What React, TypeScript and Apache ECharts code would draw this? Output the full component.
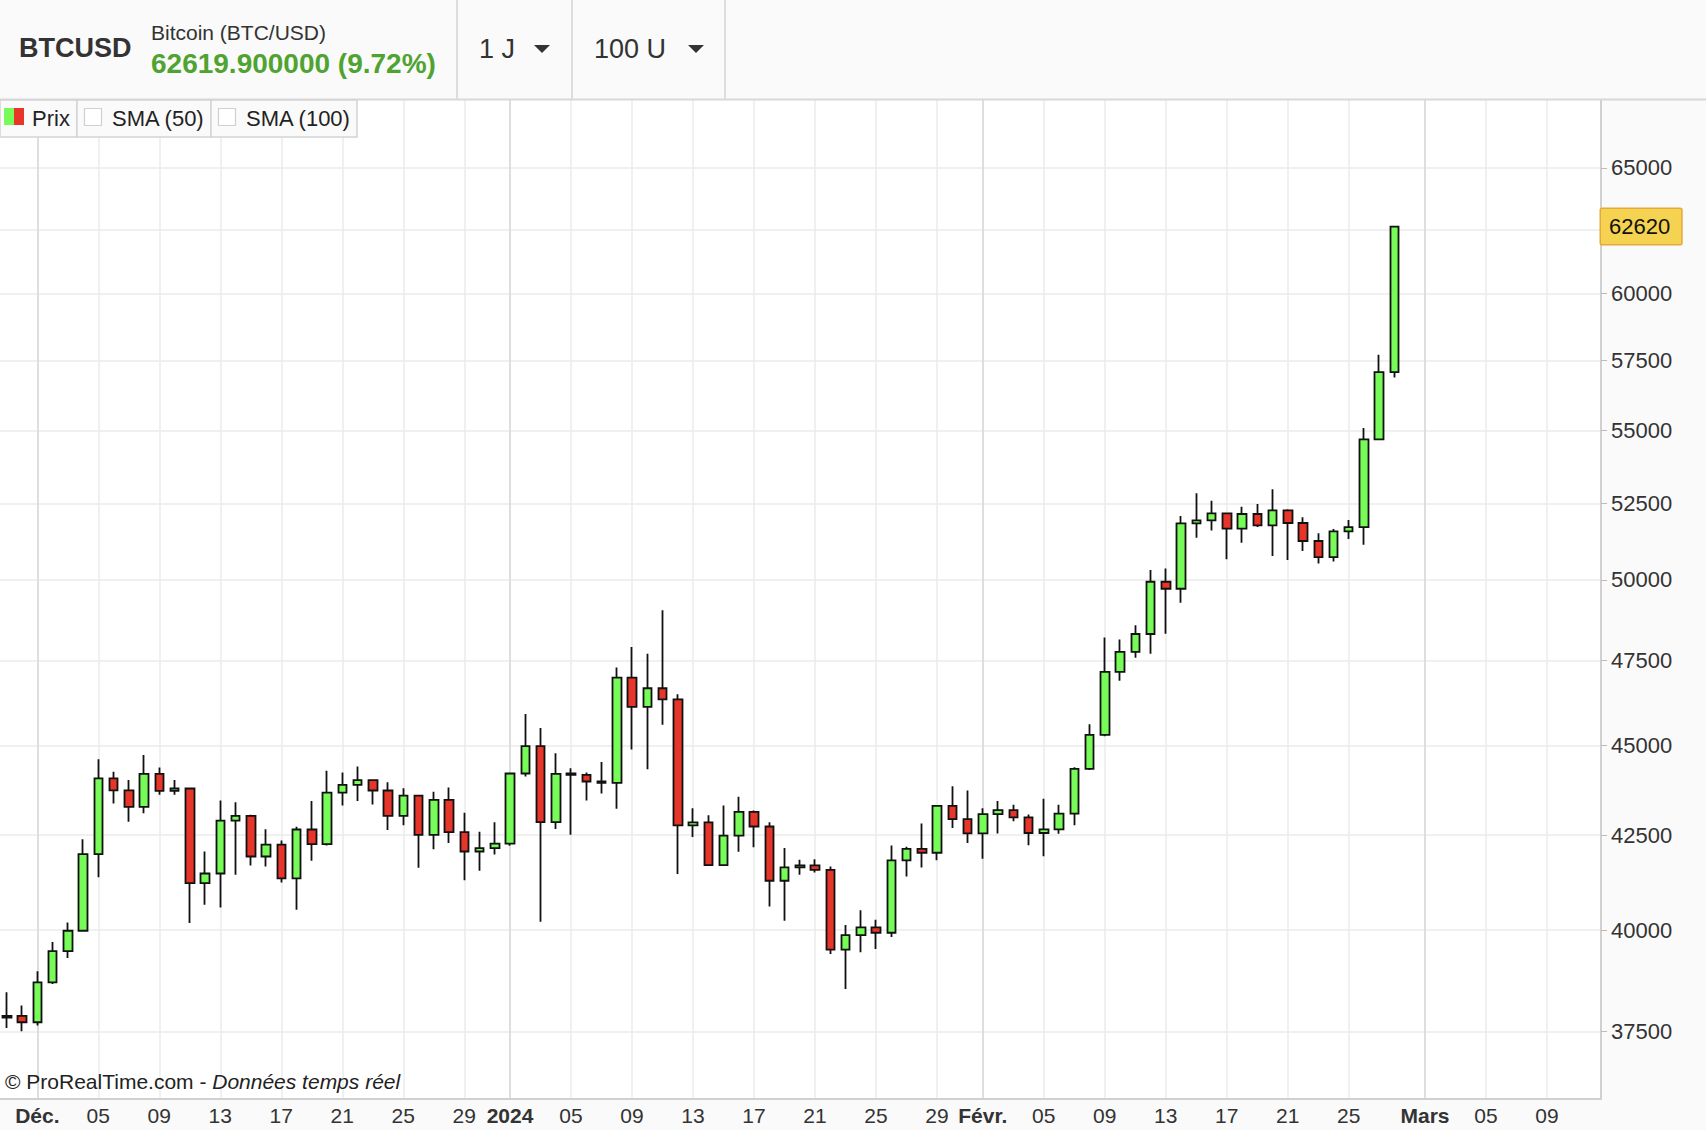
import React, { useEffect, useRef } from 'react';
import * as echarts from 'echarts';

// ---------- data ----------
const dates = [
  '2023-11-29', '2023-11-30',
  '2023-12-01', '2023-12-02', '2023-12-03', '2023-12-04', '2023-12-05', '2023-12-06', '2023-12-07', '2023-12-08',
  '2023-12-09', '2023-12-10', '2023-12-11', '2023-12-12', '2023-12-13', '2023-12-14', '2023-12-15', '2023-12-16',
  '2023-12-17', '2023-12-18', '2023-12-19', '2023-12-20', '2023-12-21', '2023-12-22', '2023-12-23', '2023-12-24',
  '2023-12-25', '2023-12-26', '2023-12-27', '2023-12-28', '2023-12-29', '2023-12-30', '2023-12-31',
  '2024-01-01', '2024-01-02', '2024-01-03', '2024-01-04', '2024-01-05', '2024-01-06', '2024-01-07', '2024-01-08',
  '2024-01-09', '2024-01-10', '2024-01-11', '2024-01-12', '2024-01-13', '2024-01-14', '2024-01-15', '2024-01-16',
  '2024-01-17', '2024-01-18', '2024-01-19', '2024-01-20', '2024-01-21', '2024-01-22', '2024-01-23', '2024-01-24',
  '2024-01-25', '2024-01-26', '2024-01-27', '2024-01-28', '2024-01-29', '2024-01-30', '2024-01-31',
  '2024-02-01', '2024-02-02', '2024-02-03', '2024-02-04', '2024-02-05', '2024-02-06', '2024-02-07', '2024-02-08',
  '2024-02-09', '2024-02-10', '2024-02-11', '2024-02-12', '2024-02-13', '2024-02-14', '2024-02-15', '2024-02-16',
  '2024-02-17', '2024-02-18', '2024-02-19', '2024-02-20', '2024-02-21', '2024-02-22', '2024-02-23', '2024-02-24',
  '2024-02-25', '2024-02-26', '2024-02-27', '2024-02-28',
];

const opens = [
  37834, 37874,
  37723, 38693, 39473, 39987, 41986, 44061, 43725, 43270,
  44188, 43714, 43779, 41218, 41472, 42894, 43021, 41923,
  42244, 41341, 42650, 42253, 43666, 43880, 44011, 43723,
  43021, 43582, 42505, 43462, 42577, 42057, 42146,
  42271, 44199, 44974, 42849, 44199, 44161, 43974, 43937,
  46983, 46114, 46666, 46339, 42760, 42842, 41696, 42486,
  43132, 42732, 41280, 41632, 41685, 41570, 39507, 39877,
  40072, 39936, 41820, 42130, 42023, 43298, 42933,
  42545, 43069, 43180, 42980, 42555, 42654, 43082, 44327,
  45299, 47156, 47760, 48307, 49941, 49719, 51833, 51933,
  52166, 51657, 52144, 51767, 52267, 51845, 51254, 50733,
  51569, 51711, 54683, 57072,
];

const closes = [
  37874, 37723,
  38693, 39473, 39987, 41986, 44061, 43725, 43270, 44188,
  43714, 43779, 41218, 41472, 42894, 43021, 41923, 42244,
  41341, 42650, 42253, 43666, 43880, 44011, 43723, 43021,
  43582, 42505, 43462, 42577, 42057, 42146, 42271,
  44199, 44974, 42849, 44190, 44161, 43974, 43937, 46983,
  46114, 46666, 46339, 42760, 42842, 41696, 42486, 43132,
  42732, 41280, 41632, 41685, 41570, 39507, 39877, 40072,
  39936, 41820, 42130, 42023, 43298, 42933, 42545,
  43069, 43180, 42980, 42555, 42654, 43082, 44327, 45299,
  47156, 47760, 48307, 49941, 49719, 51833, 51933, 52166,
  51657, 52144, 51767, 52267, 51845, 51254, 50733, 51569,
  51711, 54683, 57072, 62619.9,
];

const lows = [
  37585, 37507,
  37643, 38652, 39298, 39970, 41372, 43364, 42859, 43096,
  43603, 43603, 40183, 40654, 40586, 41437, 41684, 41657,
  41236, 40524, 41807, 42217, 43306, 43435, 43334, 42640,
  42766, 41622, 42118, 42288, 41297, 41543, 41977,
  42208, 44113, 40217, 42666, 42506, 43446, 43640, 43217,
  44882, 44321, 45590, 41456, 42444, 41680, 41690, 42047,
  42172, 40612, 40242, 41438, 41500, 39398, 38531, 39440,
  39524, 39826, 41394, 41632, 41820, 42690, 42282,
  41863, 42540, 42873, 42222, 41927, 42537, 42764, 44300,
  45260, 46886, 47578, 47700, 48317, 49277, 51363, 51602,
  50658, 51200, 51712, 50766, 50636, 50928, 50528, 50592,
  51319, 51128, 54683, 56876,
];

const highs = [
  38450, 38130,
  38966, 39700, 40200, 42388, 44605, 44248, 44014, 44725,
  44366, 44020, 43800, 42059, 43444, 43398, 43050, 42659,
  42352, 42722, 43435, 44276, 44229, 44394, 44030, 43955,
  43788, 43600, 43685, 43806, 43109, 42586, 42849,
  44220, 45904, 45500, 44772, 44350, 44227, 44527, 47284,
  47906, 47703, 49040, 46487, 43234, 43042, 43308, 43547,
  43169, 42849, 42148, 41836, 41853, 41660, 40132, 40515,
  40268, 42221, 42184, 42814, 43310, 43843, 43723,
  43234, 43430, 43330, 43060, 43497, 43330, 44374, 45608,
  48199, 48137, 48574, 50314, 50367, 52077, 52835, 52588,
  52180, 52388, 52477, 52970, 52300, 52033, 51504, 51646,
  51944, 55079, 57713, 62619.9,
];

const xTickDates = [
  '2023-12-01', '2023-12-05', '2023-12-09', '2023-12-13', '2023-12-17', '2023-12-21', '2023-12-25', '2023-12-29',
  '2024-01-01', '2024-01-05', '2024-01-09', '2024-01-13', '2024-01-17', '2024-01-21', '2024-01-25', '2024-01-29',
  '2024-02-01', '2024-02-05', '2024-02-09', '2024-02-13', '2024-02-17', '2024-02-21', '2024-02-25',
  '2024-03-01', '2024-03-05', '2024-03-09',
];
const xTickLabels = [
  'Déc.', '05', '09', '13', '17', '21', '25', '29',
  '2024', '05', '09', '13', '17', '21', '25', '29',
  'Févr.', '05', '09', '13', '17', '21', '25',
  'Mars', '05', '09',
];
const boldTickLabels = ['Déc.', '2024', 'Févr.', 'Mars'];
const monthStartDates = ['2023-12-01', '2024-01-01', '2024-02-01', '2024-03-01'];

const yTicks = [37500, 40000, 42500, 45000, 47500, 50000, 52500, 55000, 57500, 60000, 62500, 65000];
const yTickLabels = [37500, 40000, 42500, 45000, 47500, 50000, 52500, 55000, 57500, 60000, 65000];

const xRange = ['2023-11-28T13:18:00Z', '2024-03-12T13:00:00Z'];
const yRange = [35923, 67877];

const symbol = 'BTCUSD';
const instrumentName = 'Bitcoin (BTC/USD)';
const periodLabel = '1 J';
const unitsLabel = '100 U';
const legendItems = ['Prix', 'SMA (50)', 'SMA (100)'];

// ---------- helpers ----------
const FONT = "'Liberation Sans', Arial, Helvetica, sans-serif";
const toUTC = (d: string) => Date.parse(d + 'T00:00:00Z');

export default function App() {
  const ref = useRef<HTMLDivElement>(null);

  useEffect(() => {
    if (!ref.current) return;
    const chart = echarts.init(ref.current, undefined, { renderer: 'svg' });

    const candleData = dates.map((d, i) => [toUTC(d), opens[i], closes[i], lows[i], highs[i]]);
    const tickTs = xTickDates.map(toUTC);
    const monthTs = monthStartDates.map(toUTC);
    const lastClose = closes[closes.length - 1];
    const prevClose = closes[closes.length - 2];
    const pct = ((lastClose / prevClose) - 1) * 100;
    const headerPrice = `${lastClose.toFixed(6)} (${pct.toFixed(2)}%)`;

    const txt = (x: number, y: number, text: string, font: string, fill = '#333', extra: any = {}) => ({
      type: 'text',
      x,
      y,
      z: 110,
      silent: true,
      style: {
        text,
        font,
        fill,
        align: 'left',
        textAlign: 'left',
        verticalAlign: 'middle',
        textVerticalAlign: 'middle',
        ...extra,
      },
    });

    const option: any = {
      animation: false,
      backgroundColor: '#FAFAFA',
      textStyle: { fontFamily: FONT },
      grid: {
        left: 0,
        right: 105,
        top: 100,
        bottom: 31,
        show: true,
        backgroundColor: '#FFFFFF',
        borderWidth: 0,
      },
      xAxis: [
        {
          type: 'value',
          min: Date.parse(xRange[0]),
          max: Date.parse(xRange[1]),
          axisLine: { show: true, onZero: false, lineStyle: { color: '#D0D0D0', width: 2 } },
          axisTick: { show: false, customValues: tickTs },
          axisLabel: {
            customValues: tickTs,
            color: '#333',
            fontSize: 21,
            fontFamily: FONT,
            margin: 6,
            formatter: (v: number) => {
              const idx = tickTs.indexOf(v);
              const label = idx >= 0 ? xTickLabels[idx] : '';
              return boldTickLabels.includes(label) ? `{b|${label}}` : label;
            },
            rich: {
              b: { fontWeight: 'bold', fontSize: 21, color: '#333', fontFamily: FONT },
            },
          },
          splitLine: { show: true, lineStyle: { color: '#EBEBEB', width: 1.5 } },
        },
        {
          type: 'value',
          min: Date.parse(xRange[0]),
          max: Date.parse(xRange[1]),
          position: 'bottom',
          axisLine: { show: false },
          axisTick: { show: false, customValues: monthTs },
          axisLabel: { show: false, customValues: monthTs },
          splitLine: { show: true, lineStyle: { color: '#D9D9D9', width: 1.5 } },
        },
      ],
      yAxis: {
        type: 'log',
        logBase: 10,
        min: yRange[0],
        max: yRange[1],
        position: 'right',
        axisLine: { show: true, lineStyle: { color: '#D0D0D0', width: 2 } },
        axisTick: { show: true, length: 6, customValues: yTicks, lineStyle: { color: '#BBBBBB' } },
        axisLabel: {
          customValues: yTickLabels,
          color: '#333',
          fontSize: 22,
          fontFamily: FONT,
          margin: 10,
          padding: [0, 0, 4, 0],
          formatter: (v: number) => String(Math.round(v)),
        },
        splitLine: { show: true, lineStyle: { color: '#EBEBEB', width: 1.5 } },
      },
      series: [
        {
          type: 'candlestick',
          xAxisIndex: 0,
          yAxisIndex: 0,
          data: candleData,
          barWidth: 9,
          clip: false,
          silent: true,
          z: 5,
          itemStyle: {
            color: '#77FB58',
            color0: '#E8352A',
            borderColor: '#111111',
            borderColor0: '#111111',
            borderColorDoji: '#111111',
            borderWidth: 1.8,
          },
          markLine: {
            silent: true,
            z: 20,
            symbol: ['none', 'none'],
            lineStyle: { color: 'rgba(0,0,0,0)', width: 0, opacity: 1, type: 'solid' },
            label: {
              show: true,
              opacity: 1,
              position: 'end',
              distance: 0,
              formatter: () => String(Math.round(lastClose)),
              color: '#111',
              fontSize: 22,
              fontFamily: FONT,
              backgroundColor: '#F5D24F',
              borderColor: '#E2A93B',
              borderWidth: 1.5,
              borderRadius: 1,
              padding: [7, 11, 6, 8],
            },
            data: [{ yAxis: lastClose }],
          },
        },
      ],
      graphic: [
        // header band
        { type: 'rect', z: 100, silent: true, shape: { x: 0, y: 0, width: 1706, height: 99 }, style: { fill: '#FAFAFA' } },
        { type: 'line', z: 101, silent: true, shape: { x1: 0, y1: 99.5, x2: 1706, y2: 99.5 }, style: { stroke: '#D8D8D8', lineWidth: 2 } },
        { type: 'line', z: 101, silent: true, shape: { x1: 457, y1: 0, x2: 457, y2: 99 }, style: { stroke: '#DDDDDD', lineWidth: 2 } },
        { type: 'line', z: 101, silent: true, shape: { x1: 572, y1: 0, x2: 572, y2: 99 }, style: { stroke: '#DDDDDD', lineWidth: 2 } },
        { type: 'line', z: 101, silent: true, shape: { x1: 725, y1: 0, x2: 725, y2: 99 }, style: { stroke: '#DDDDDD', lineWidth: 2 } },
        txt(19, 48, symbol, `bold 27px ${FONT}`, '#333'),
        txt(151, 32.5, instrumentName, `21px ${FONT}`, '#333'),
        txt(151, 63.5, headerPrice, `bold 28px ${FONT}`, '#4FA330'),
        txt(479, 48.5, periodLabel, `27px ${FONT}`, '#333'),
        { type: 'polygon', z: 110, silent: true, shape: { points: [[534, 45], [550, 45], [542, 53]] }, style: { fill: '#333' } },
        txt(594, 48.5, unitsLabel, `27px ${FONT}`, '#333'),
        { type: 'polygon', z: 110, silent: true, shape: { points: [[688, 45], [704, 45], [696, 53]] }, style: { fill: '#333' } },

        // legend boxes
        { type: 'rect', z: 105, silent: true, shape: { x: 0, y: 100, width: 77, height: 37 }, style: { fill: '#FAFAFA', stroke: '#D3D3D3', lineWidth: 1.5 } },
        { type: 'rect', z: 105, silent: true, shape: { x: 77, y: 100, width: 134, height: 37 }, style: { fill: '#FAFAFA', stroke: '#D3D3D3', lineWidth: 1.5 } },
        { type: 'rect', z: 105, silent: true, shape: { x: 211, y: 100, width: 146, height: 37 }, style: { fill: '#FAFAFA', stroke: '#D3D3D3', lineWidth: 1.5 } },
        { type: 'rect', z: 110, silent: true, shape: { x: 4, y: 108, width: 10, height: 17 }, style: { fill: '#77FB58' } },
        { type: 'rect', z: 110, silent: true, shape: { x: 14, y: 108, width: 10, height: 17 }, style: { fill: '#E8352A' } },
        txt(32, 118, legendItems[0], `22px ${FONT}`, '#222'),
        { type: 'rect', z: 110, silent: true, shape: { x: 84.5, y: 108.5, width: 17, height: 17 }, style: { fill: '#FFFFFF', stroke: '#D0D0D0', lineWidth: 1.2 } },
        txt(112, 118, legendItems[1], `22px ${FONT}`, '#222'),
        { type: 'rect', z: 110, silent: true, shape: { x: 218.5, y: 108.5, width: 17, height: 17 }, style: { fill: '#FFFFFF', stroke: '#D0D0D0', lineWidth: 1.2 } },
        txt(246, 118, legendItems[2], `22px ${FONT}`, '#222'),

        // watermark
        {
          type: 'text',
          x: 5,
          y: 1081,
          z: 110,
          silent: true,
          style: {
            text: '{a|© ProRealTime.com - }{b|Données temps réel}',
            verticalAlign: 'middle',
            textVerticalAlign: 'middle',
            fill: '#222',
            rich: {
              a: { font: `21px ${FONT}`, fill: '#222' },
              b: { font: `italic 21px ${FONT}`, fill: '#222' },
            },
          },
        },
      ],
    };

    chart.setOption(option);
    return () => chart.dispose();
  }, []);

  return (
    <div
      ref={ref}
      style={{ position: 'fixed', left: 0, top: 0, width: 1706, height: 1130, background: '#FAFAFA' }}
    />
  );
}
